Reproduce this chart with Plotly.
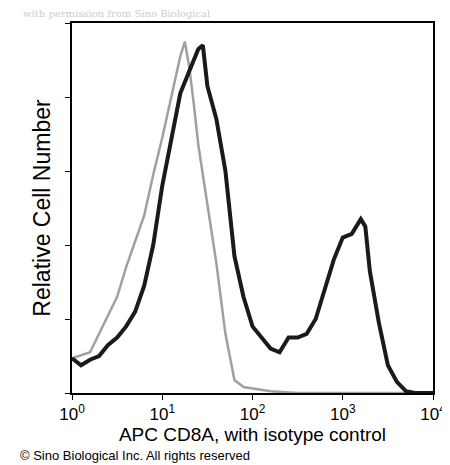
import plotly.graph_objects as go

# log10 of fluorescence and relative counts
cd8a_log = [0, .1, .2, .3, .4, .5, .6, .7, .8, .9, 1.0, 1.1, 1.2, 1.3, 1.4, 1.45, 1.5, 1.6, 1.7, 1.8,
            1.9, 2.0, 2.1, 2.2, 2.3, 2.4, 2.5, 2.6, 2.7, 2.8, 2.9, 3.0, 3.1, 3.2, 3.25, 3.3, 3.4, 3.5,
            3.6, 3.7, 3.8, 4.0]
cd8a_cnt = [9.4, 7.5, 9, 10, 13, 15, 18, 22, 29, 40, 56, 69, 81, 87, 93, 94, 83, 74, 60, 37,
            26, 18, 15, 12, 11, 15, 15, 16, 20, 28, 36, 42, 43, 47, 45, 33, 19, 7.5,
            3, 0.5, 0, 0]
iso_log = [0, .2, .3, .4, .5, .6, .7, .8, .9, 1.0, 1.1, 1.2, 1.25, 1.3, 1.35, 1.4, 1.5, 1.6, 1.7, 1.8,
           1.9, 2.0, 2.2, 2.5, 3.0, 4.0]
iso_cnt = [9.4, 11, 16, 21, 26, 34, 41, 48, 59, 69, 80, 91, 95, 88, 78, 67, 51, 35, 16, 3.5,
           1.6, 1.3, 0.5, 0, 0, 0]

fig = go.Figure()
fig.add_trace(go.Scatter(x=[10 ** v for v in iso_log], y=iso_cnt, mode="lines",
                         line=dict(color="#a0a0a0", width=2.5)))
fig.add_trace(go.Scatter(x=[10 ** v for v in cd8a_log], y=cd8a_cnt, mode="lines",
                         line=dict(color="#1a1a1a", width=4)))

font = "Liberation Sans, Arial, sans-serif"
fig.update_layout(
    width=450, height=465, showlegend=False,
    margin=dict(l=64, r=15, t=15, b=80),
    plot_bgcolor="white", paper_bgcolor="white",
    font=dict(family=font, color="black"),
    xaxis=dict(type="log", range=[0, 4], showgrid=False, zeroline=False,
               showline=True, linecolor="black", linewidth=2, mirror=True,
               ticks="outside", ticklen=5, tickcolor="black",
               tickvals=[1, 10, 100, 1000, 10000],
               ticktext=["10<sup>0</sup>", "10<sup>1</sup>", "10<sup>2</sup>", "10<sup>3</sup>", "10<sup>4</sup>"],
               tickfont=dict(size=17),
               title=dict(text="APC CD8A, with isotype control", font=dict(size=19), standoff=4)),
    yaxis=dict(range=[0, 100], showgrid=False, zeroline=False,
               showline=True, linecolor="black", linewidth=2, mirror=True,
               ticks="outside", ticklen=5, tickcolor="black", dtick=20,
               showticklabels=False,
               title=dict(text="Relative Cell Number", font=dict(size=23), standoff=8)),
)
fig.add_annotation(text="with permission from Sino Biological", xref="paper", yref="paper",
                   x=-0.14, y=1.045, xanchor="left", showarrow=False,
                   font=dict(size=10, color="#cccccc", family="DejaVu Serif"))
fig.add_annotation(text="© Sino Biological Inc. All rights reserved", xref="paper", yref="paper",
                   x=-0.15, y=-0.195, xanchor="left", showarrow=False,
                   font=dict(size=13, color="black"))
fig.write_html("out.html")
